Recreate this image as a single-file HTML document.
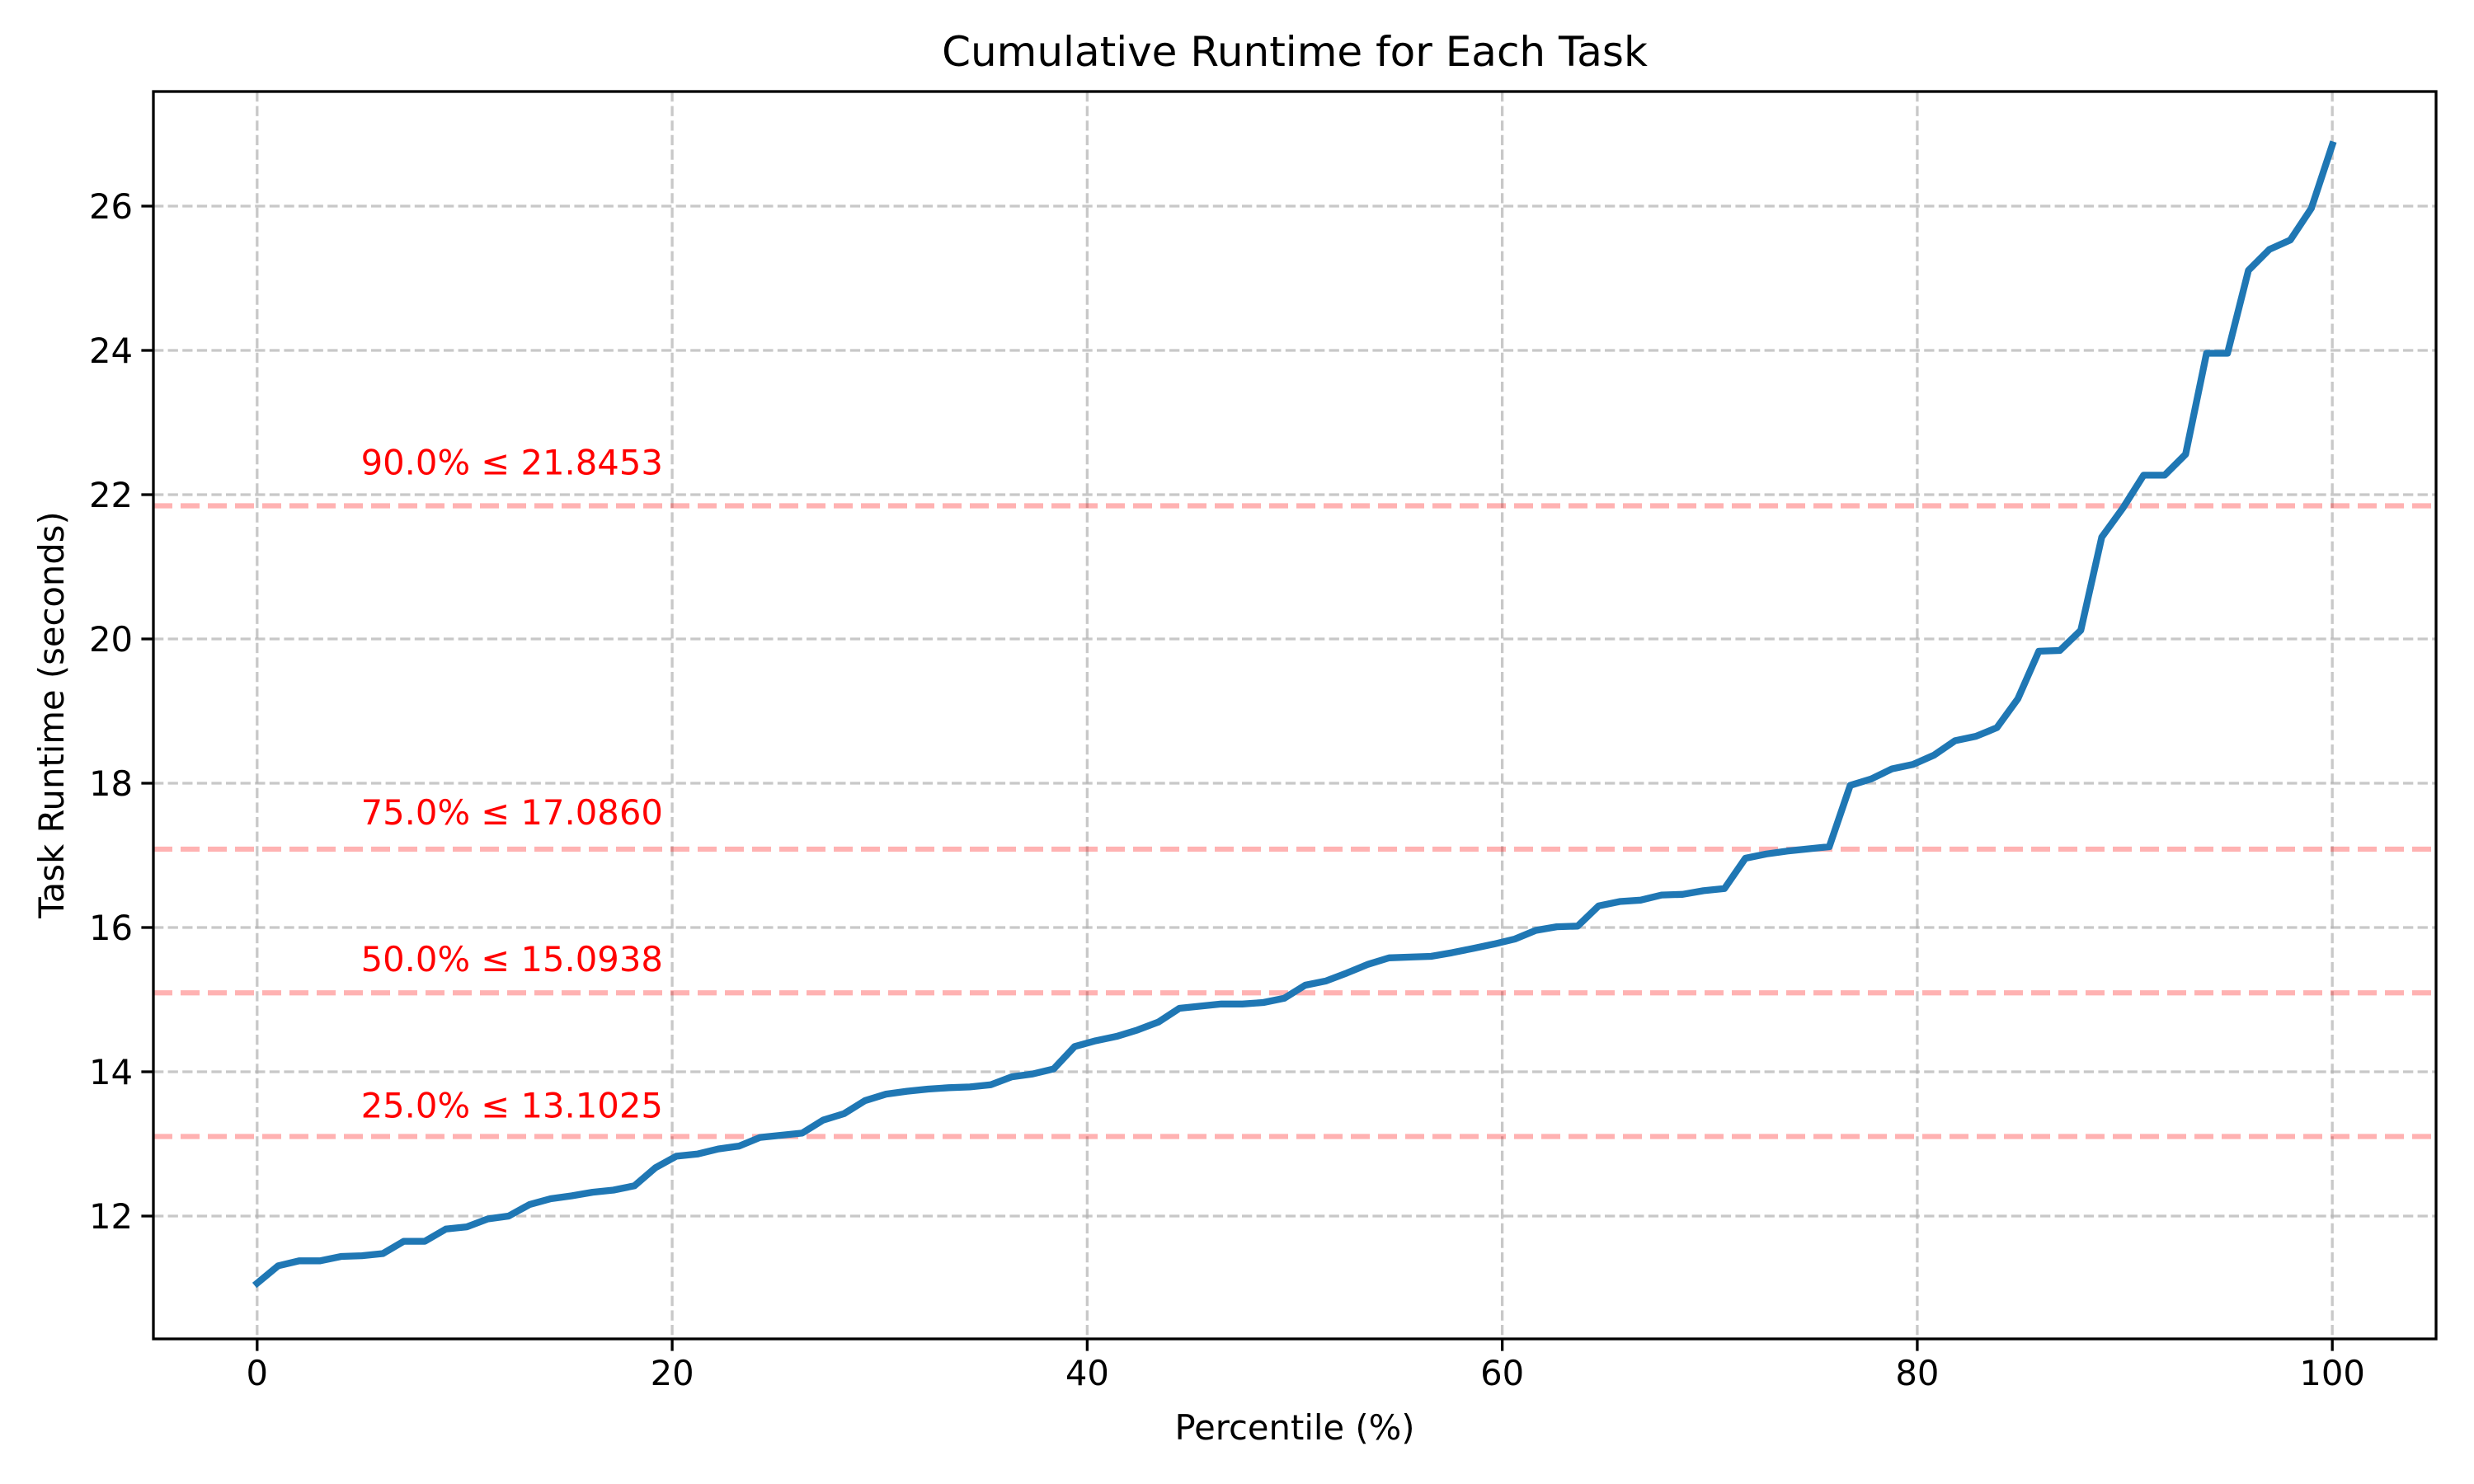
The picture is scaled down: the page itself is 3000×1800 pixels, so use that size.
<!DOCTYPE html>
<html><head><meta charset="utf-8"><style>
html,body{margin:0;padding:0;background:#fff}
svg{display:block;font-family:"DejaVu Sans","Liberation Sans",sans-serif}
</style></head><body>
<svg id="chart" width="3000" height="1800" viewBox="0 0 3000 1800" xmlns="http://www.w3.org/2000/svg">
<rect width="3000" height="1800" fill="#fff"/>
<g id="grid"></g>
<g id="refs"></g>
<g id="series"></g>
<g id="axes"></g>
<text x="1570" y="80" font-size="50" text-anchor="middle">Cumulative Runtime for Each Task</text>
<text x="1570" y="1746" font-size="41.7" text-anchor="middle">Percentile (%)</text>
<text transform="translate(77,867) rotate(-90)" font-size="41.7" text-anchor="middle">Task Runtime (seconds)</text>
</svg>
<script>
const runtimes = [11.07,11.31,11.38,11.38,11.44,11.45,11.48,11.65,11.65,11.82,
11.85,11.96,12.0,12.16,12.24,12.28,12.33,12.36,12.42,12.67,
12.83,12.86,12.93,12.97,13.09,13.12,13.15,13.33,13.42,13.6,
13.69,13.73,13.76,13.78,13.79,13.82,13.93,13.97,14.04,14.35,
14.43,14.49,14.58,14.69,14.88,14.91,14.94,14.94,14.96,15.02,
15.2,15.26,15.37,15.49,15.58,15.59,15.60,15.65,15.71,15.77,
15.84,15.96,16.01,16.02,16.30,16.36,16.38,16.45,16.46,16.51,
16.54,16.96,17.02,17.06,17.09,17.12,17.97,18.06,18.20,18.26,
18.39,18.59,18.65,18.77,19.17,19.83,19.84,20.12,21.41,21.81,
22.27,22.27,22.56,23.96,23.96,25.11,25.40,25.53,25.97,26.85];
const percentileLevels = [25.0, 50.0, 75.0, 90.0];
const percentileValues = [13.1025, 15.0938, 17.0860, 21.8453];
const xTicks = [0,20,40,60,80,100];
const yTicks = [12,14,16,18,20,22,24,26];

const NS="http://www.w3.org/2000/svg";
const L=186,R=2954,T=111,B=1624;
const xMin=-5,xMax=105;
const yMin=12-(B-1475)/87.5, yMax=26+(250-T)/87.5;
function sx(v){return L+(v-xMin)/(xMax-xMin)*(R-L);}
function sy(v){return B-(v-yMin)/(yMax-yMin)*(B-T);}
function mk(tag,attrs,parent){const e=document.createElementNS(NS,tag);for(const k in attrs)e.setAttribute(k,attrs[k]);parent.appendChild(e);return e;}

const grid=document.getElementById('grid'), axes=document.getElementById('axes'), refs=document.getElementById('refs'), series=document.getElementById('series');
xTicks.forEach(t=>{
  const x=sx(t);
  const g=mk('line',{x1:x,x2:x,y1:T,y2:B,stroke:'#b0b0b0','stroke-opacity':0.7,'stroke-width':3.3,'stroke-dasharray':'12.3 5.3'},grid);
  
  
  const tk=mk('line',{x1:x,x2:x,y1:B,y2:B+14.6,stroke:'#000','stroke-width':3.3},axes);
  
  
  const lb=mk('text',{x:x,y:B+56,'font-size':41.7,'text-anchor':'middle'},axes);
  lb.textContent=t;
  
  
});
yTicks.forEach(t=>{
  const y=sy(t);
  const g=mk('line',{x1:L,x2:R,y1:y,y2:y,stroke:'#b0b0b0','stroke-opacity':0.7,'stroke-width':3.3,'stroke-dasharray':'12.3 5.3'},grid);
  
  
  const tk=mk('line',{x1:L-14.6,x2:L,y1:y,y2:y,stroke:'#000','stroke-width':3.3},axes);
  
  
  const lb=mk('text',{x:L-25,y:y+15,'font-size':41.7,'text-anchor':'end'},axes);
  lb.textContent=t;
  
  
});
percentileValues.forEach((v,i)=>{
  const y=sy(v);
  const ln=mk('line',{x1:L,x2:R,y1:y,y2:y,stroke:'#ff0000','stroke-opacity':0.3,'stroke-width':6.25,'stroke-dasharray':'23 10'},refs);
  
  
  const tx=mk('text',{x:sx(5),y:sy(v*1.02),'font-size':41.7,fill:'#ff0000'},refs);
  tx.textContent=percentileLevels[i].toFixed(1)+'% \u2264 '+v.toFixed(4);
  
  
});
const n=runtimes.length;
const pts=runtimes.map((v,i)=>sx(i*100/(n-1)).toFixed(1)+','+sy(v).toFixed(1)).join(' ');
const pl=mk('polyline',{points:pts,fill:'none',stroke:'#1f77b4','stroke-width':8.3,'stroke-linejoin':'round','stroke-linecap':'square'},series);


const fr=mk('rect',{x:L,y:T,width:R-L,height:B-T,fill:'none',stroke:'#000','stroke-width':3.3},axes);


</script>
</body></html>
